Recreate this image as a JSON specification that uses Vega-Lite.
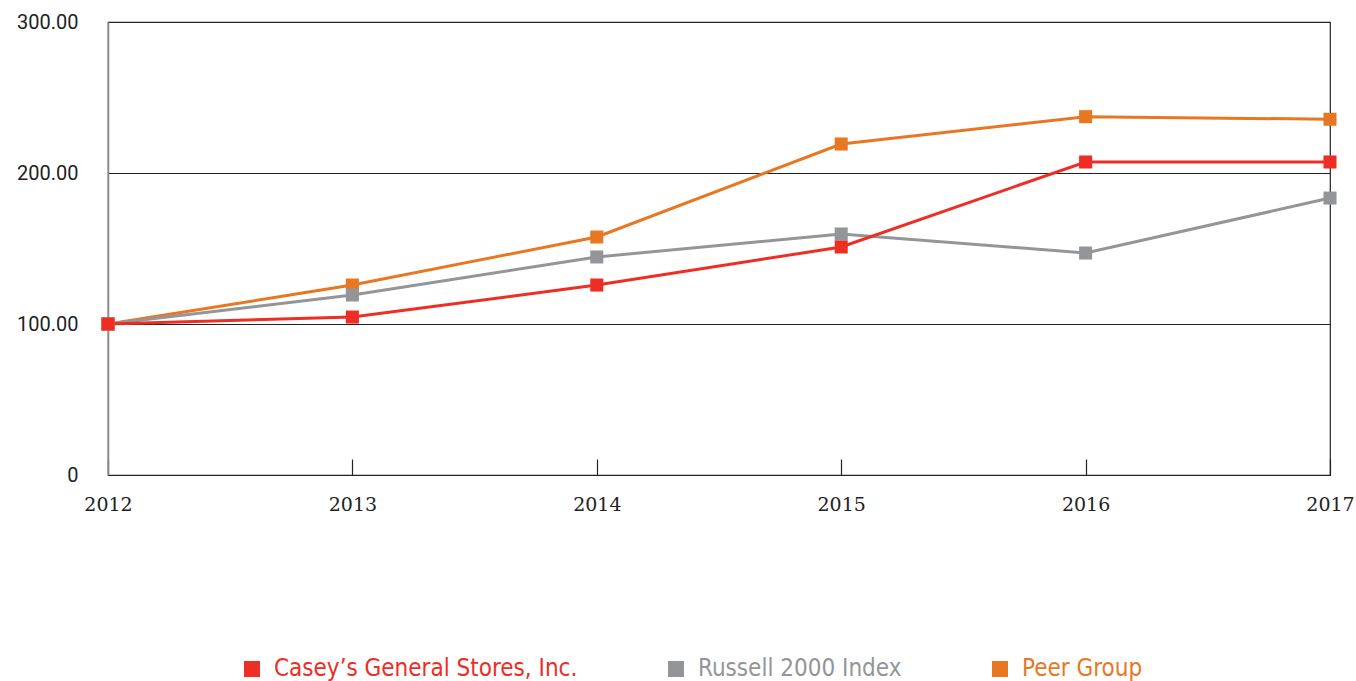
{
  "$schema": "https://vega.github.io/schema/vega-lite/v6.json",
  "width": 1222,
  "height": 453,
  "autosize": {"type": "none"},
  "padding": {"left": 108, "top": 22, "right": 26, "bottom": 206},
  "background": "white",
  "config": {
    "view": {"stroke": "#222222", "strokeWidth": 1.2},
    "font": "Roboto"
  },
  "data": {
    "values": [
      {"year": 2012, "series": "Peer Group", "value": 100},
      {"year": 2013, "series": "Peer Group", "value": 125.8},
      {"year": 2014, "series": "Peer Group", "value": 157.6},
      {"year": 2015, "series": "Peer Group", "value": 219.2},
      {"year": 2016, "series": "Peer Group", "value": 237.3},
      {"year": 2017, "series": "Peer Group", "value": 235.6},
      {"year": 2012, "series": "Russell 2000 Index", "value": 100},
      {"year": 2013, "series": "Russell 2000 Index", "value": 119.2},
      {"year": 2014, "series": "Russell 2000 Index", "value": 144.4},
      {"year": 2015, "series": "Russell 2000 Index", "value": 159.6},
      {"year": 2016, "series": "Russell 2000 Index", "value": 147.0},
      {"year": 2017, "series": "Russell 2000 Index", "value": 183.4},
      {"year": 2012, "series": "Casey’s General Stores, Inc.", "value": 100},
      {"year": 2013, "series": "Casey’s General Stores, Inc.", "value": 104.6},
      {"year": 2014, "series": "Casey’s General Stores, Inc.", "value": 125.8},
      {"year": 2015, "series": "Casey’s General Stores, Inc.", "value": 151.0},
      {"year": 2016, "series": "Casey’s General Stores, Inc.", "value": 207.3},
      {"year": 2017, "series": "Casey’s General Stores, Inc.", "value": 207.3}
    ]
  },
  "encoding": {
    "x": {
      "field": "year",
      "type": "quantitative",
      "scale": {"domain": [2012, 2017], "nice": false, "zero": false},
      "axis": {
        "title": null,
        "values": [2012, 2013, 2014, 2015, 2016, 2017],
        "format": "d",
        "grid": false,
        "domainColor": "#222222",
        "domainWidth": 1.2,
        "tickColor": "#222222",
        "tickSize": -16,
        "tickWidth": 1.2,
        "labelFont": "DejaVu Serif",
        "labelFontSize": 19,
        "labelColor": "#222222",
        "labelPadding": 36,
        "labelFlush": false
      }
    },
    "y": {
      "field": "value",
      "type": "quantitative",
      "scale": {"domain": [0, 300], "nice": false},
      "axis": {
        "title": null,
        "values": [0, 100, 200, 300],
        "labelExpr": "datum.value == 0 ? '0' : format(datum.value, '.2f')",
        "grid": true,
        "gridColor": "#222222",
        "gridWidth": 1.2,
        "gridOpacity": 1,
        "domainColor": "#888888",
        "domainWidth": 1.5,
        "ticks": false,
        "labelFont": "Roboto",
        "labelFontSize": 20,
        "labelColor": "#222222",
        "labelPadding": 30
      }
    },
    "color": {
      "field": "series",
      "type": "nominal",
      "scale": {
        "domain": ["Casey’s General Stores, Inc.", "Russell 2000 Index", "Peer Group"],
        "range": ["#EE2D24", "#939598", "#E87722"]
      },
      "legend": {
        "title": null,
        "orient": "none",
        "direction": "horizontal",
        "legendX": 132,
        "legendY": 635,
        "symbolType": "square",
        "symbolSize": 256,
        "symbolStrokeWidth": 0,
        "symbolOpacity": 1,
        "labelFont": "'DejaVu Sans Condensed', 'Liberation Sans Narrow', Roboto, sans-serif",
        "labelFontSize": 24,
        "labelColor": {"expr": "scale('color', datum.value)"},
        "labelOffset": 10,
        "labelLimit": 400,
        "columnPadding": 86
      }
    }
  },
  "layer": [
    {
      "mark": {"type": "line", "strokeWidth": 3},
      "encoding": {"detail": {"field": "series"}}
    },
    {
      "mark": {"type": "point", "shape": "square", "filled": true, "size": 170, "opacity": 1}
    }
  ]
}
